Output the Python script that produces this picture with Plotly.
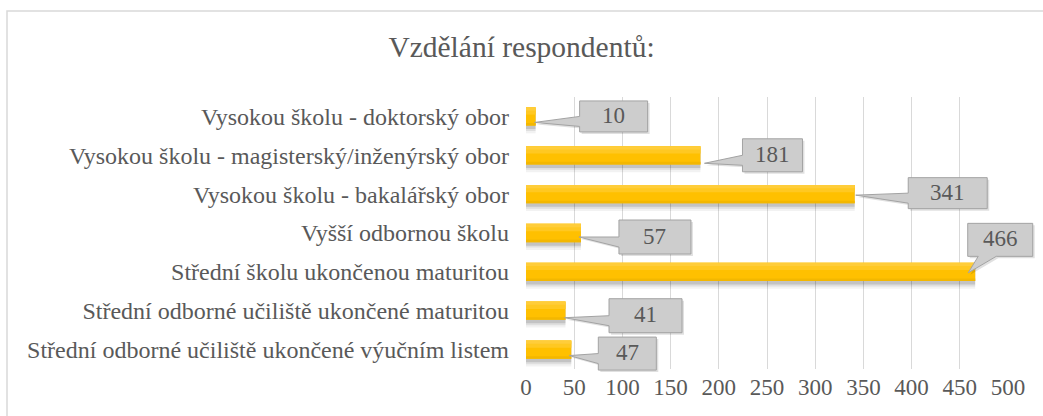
import plotly.graph_objects as go

# ---- data (bottom -> top) ----
categories = [
    "Střední odborné učiliště ukončené výučním listem",
    "Střední odborné učiliště ukončené maturitou",
    "Střední školu ukončenou maturitou",
    "Vyšší odbornou školu",
    "Vysokou školu - bakalářský obor",
    "Vysokou školu - magisterský/inženýrský obor",
    "Vysokou školu - doktorský obor",
]
values = [47, 41, 466, 57, 341, 181, 10]
x_ticks = [0, 50, 100, 150, 200, 250, 300, 350, 400, 450, 500]
title_text = "Vzdělání respondentů:"

# ---- callout layout (pixels, screen-down, relative to bar end / bar centre) ----
# (box dx, box dy, box w, box h, tip dx, tip dy, side)
callouts = [
    (56, 4, 58, 33, -2, 6, "left"),
    (80, 5, 73, 34, -1, 7, "left"),
    (25, -32, 65, 33, -7, 1, "below"),
    (74, 4, 72, 34, -2, 4, "left"),
    (93, -1, 79, 31, 1, 1, "left"),
    (72, 0, 60, 33, 4, 8, "left"),
    (78, 0, 68, 31, -1, 6, "left"),
]

FONT = "Liberation Serif"
GREY_TXT = "#595959"
n = len(categories)
ypos = list(range(n))
BW = 0.47
X_MAX = x_ticks[-1]

fig = go.Figure()
# soft shadows (layered to fake a blur)
for extra, shift, alpha in [(0.18, 0.11, 0.05), (0.10, 0.09, 0.08), (0.04, 0.07, 0.12)]:
    fig.add_trace(go.Bar(x=values, y=ypos, orientation="h", width=BW + extra,
                         offset=-(BW + extra) / 2 - shift,
                         marker=dict(color=f"rgba(0,0,0,{alpha})", line_width=0), hoverinfo="skip"))
# main bar
fig.add_trace(go.Bar(x=values, y=ypos, orientation="h", width=BW, offset=-BW / 2,
                     marker=dict(color="#FFC000", line_width=0)))
# top highlight
fig.add_trace(go.Bar(x=values, y=ypos, orientation="h", width=BW * 0.4, offset=BW / 2 - BW * 0.4,
                     marker=dict(color="#FFC822", line_width=0), hoverinfo="skip"))
fig.add_trace(go.Bar(x=values, y=ypos, orientation="h", width=BW * 0.18, offset=BW / 2 - BW * 0.18,
                     marker=dict(color="#FFCD3A", line_width=0), hoverinfo="skip"))
# bottom darker edge
fig.add_trace(go.Bar(x=values, y=ypos, orientation="h", width=BW * 0.14, offset=-BW / 2,
                     marker=dict(color="#F3B700", line_width=0), hoverinfo="skip"))

shapes = []
annotations = []
for i, (v, c) in enumerate(zip(values, callouts)):
    dx, dy, w, h, tx, ty, side = c
    L, R, T, B = dx - w / 2, dx + w / 2, dy - h / 2, dy + h / 2
    if side == "left":
        pts = [(L, T), (R, T), (R, B), (L, B), (L, dy + 10), (tx, ty), (L, dy)]
    else:
        pts = [(L, T), (R, T), (R, B), (dx - 4, B), (tx, ty), (dx - 22, B), (L, B)]

    def mk(p, sx=0, sy=0):
        return "M " + " L ".join(f"{x + sx},{-(y + sy)}" for x, y in p) + " Z"

    # anchor in paper fractions (so the callout is not clipped by the plot area)
    ax_p = v / X_MAX
    ay_p = (i + 0.5) / n
    common = dict(type="path", xref="paper", yref="paper", xsizemode="pixel", ysizemode="pixel",
                  xanchor=ax_p, yanchor=ay_p, layer="above")
    shapes.append(dict(common, path=mk(pts, 2, 2),
                       fillcolor="rgba(0,0,0,0.12)", line=dict(width=0)))
    shapes.append(dict(common, path=mk(pts),
                       fillcolor="#CDCDCD", line=dict(color="#A3A3A3", width=1)))
    annotations.append(dict(x=v, y=i, xref="x", yref="y", text=str(v), showarrow=False,
                            xshift=dx, yshift=-dy + 1, xanchor="center", yanchor="middle",
                            font=dict(family=FONT, size=23, color=GREY_TXT)))

# outer chart border (top & left visible)
shapes.append(dict(type="rect", xref="paper", yref="paper",
                   x0=(7 - 526) / 482, x1=(1060 - 526) / 482,
                   y0=(369 - 430) / 272, y1=(369 - 11) / 272,
                   line=dict(color="#D9D9D9", width=1.5), fillcolor="rgba(0,0,0,0)", layer="below"))

fig.update_layout(
    width=1043, height=416,
    margin=dict(l=526, r=35, t=97, b=47),
    paper_bgcolor="white", plot_bgcolor="white",
    barmode="overlay", showlegend=False,
    title=dict(text=title_text, x=0.5, xanchor="center", y=1 - 47 / 416, yanchor="middle",
               yref="container", font=dict(family=FONT, size=29.5, color=GREY_TXT)),
    xaxis=dict(range=[0, X_MAX], tickvals=x_ticks, showgrid=True, gridcolor="#D9D9D9", gridwidth=1,
               zeroline=False, showline=False, ticks="", automargin=False,
               tickfont=dict(family=FONT, size=23, color=GREY_TXT), ticklabelstandoff=2),
    yaxis=dict(range=[-0.5, n - 0.5], tickvals=ypos, ticktext=categories, showgrid=False,
               zeroline=False, showline=False, ticks="", automargin=False,
               tickfont=dict(family=FONT, size=24, color=GREY_TXT), ticklabelstandoff=16),
    shapes=shapes, annotations=annotations,
)
fig.write_html("out.html", config={"displayModeBar": False},
               post_script="document.body.style.margin='0';document.body.style.padding='0';")
